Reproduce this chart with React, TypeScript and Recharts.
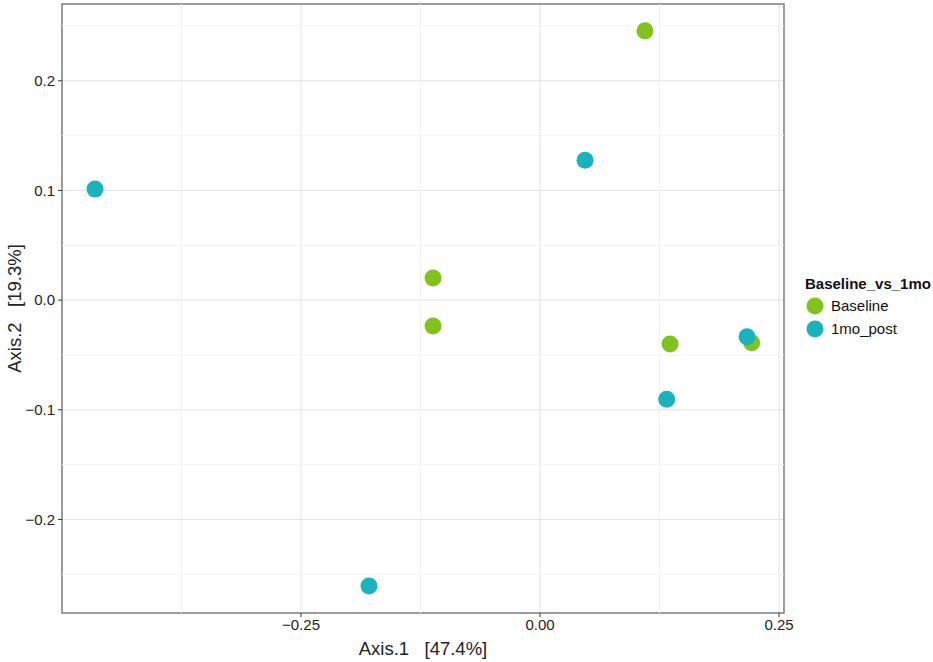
import React from 'react';
import {
  ScatterChart, Scatter, XAxis, YAxis, CartesianGrid, ReferenceLine, ReferenceArea,
} from 'recharts';

const baselineX = [0.1098, -0.1119, -0.1119, 0.136, 0.2214];
const baselineY = [0.2455, 0.0201, -0.0237, -0.0401, -0.0389];
const postX = [-0.4655, 0.0471, 0.2165, 0.1325, -0.1789];
const postY = [0.1012, 0.1276, -0.0335, -0.0905, -0.2607];

const xTicks = [-0.25, 0, 0.25];
const yTicks = [-0.2, -0.1, 0, 0.1, 0.2];
const xMinor = [-0.375, -0.125, 0.125];
const yMinor = [-0.25, -0.15, -0.05, 0.05, 0.15, 0.25];
const xDomain = [-0.5, 0.2552];
const yDomain = [-0.2853, 0.27];

const seriesNames = ['Baseline', '1mo_post'];
const legendTitle = 'Baseline_vs_1mo';
const colors = ['#7fc31c', '#19b2bd'];

const baselineData = baselineX.map((x, i) => ({ x, y: baselineY[i] }));
const postData = postX.map((x, i) => ({ x, y: postY[i] }));

const fmt = (v: number, d: number) => {
  const s = Math.abs(v).toFixed(d);
  return v < 0 ? '\u2212' + s : s;
};

const dot = (color: string) => (props: any) => (
  <circle cx={props.cx} cy={props.cy} r={8.5} fill={color} />
);

const FONT = '"Liberation Sans", Arial, sans-serif';

const LegendBox = () => (
  <div style={{ position: 'absolute', left: 805, top: 273, fontFamily: FONT, color: '#111' }}>
    <div style={{ fontWeight: 'bold', fontSize: 15, height: 21, lineHeight: '21px', whiteSpace: 'nowrap' }}>{legendTitle}</div>
    {seriesNames.map((n, i) => (
      <div key={n} style={{ display: 'flex', alignItems: 'center', height: 23, fontSize: 15 }}>
        <svg width={20} height={20} style={{ marginRight: 6 }}>
          <circle cx={10} cy={10} r={8.5} fill={colors[i]} />
        </svg>
        <span>{n}</span>
      </div>
    ))}
  </div>
);

export default function App() {
  return (
    <div style={{ position: 'absolute', left: 0, top: 0, width: 933, height: 662, background: '#fff' }}>
      <ScatterChart width={933} height={662} margin={{ top: 4, right: 149, bottom: 0, left: 0 }}>
        <CartesianGrid stroke="#e3e3e3" strokeWidth={1} />
        {xMinor.map((v) => (
          <ReferenceLine key={'xm' + v} x={v} stroke="#f3f3f3" strokeWidth={1} />
        ))}
        {yMinor.map((v) => (
          <ReferenceLine key={'ym' + v} y={v} stroke="#f3f3f3" strokeWidth={1} />
        ))}
        <XAxis
          type="number"
          dataKey="x"
          domain={xDomain}
          allowDataOverflow
          ticks={xTicks}
          tickFormatter={(v: number) => fmt(v, 2)}
          axisLine={false}
          tickSize={4}
          tickLine={{ stroke: '#333' }}
          tick={{ fill: '#222', fontSize: 15, fontFamily: FONT }}
          height={49}
          label={{
            content: (p: any) => {
              const vb = p.viewBox;
              return (
                <text x={vb.x + vb.width / 2} y={vb.y + 42} textAnchor="middle" fill="#222"
                  fontSize={18.5} fontFamily={FONT} style={{ whiteSpace: 'pre' }}>
                  {'Axis.1   [47.4%]'}
                </text>
              );
            },
          }}
        />
        <YAxis
          type="number"
          dataKey="y"
          domain={yDomain}
          allowDataOverflow
          ticks={yTicks}
          tickFormatter={(v: number) => fmt(v, 1)}
          axisLine={false}
          tickSize={4}
          tickMargin={3}
          tickLine={{ stroke: '#333' }}
          tick={{ fill: '#222', fontSize: 15, fontFamily: FONT }}
          width={62}
          label={{
            content: (p: any) => {
              const vb = p.viewBox;
              const cx = 14;
              const cy = vb.y + vb.height / 2;
              return (
                <text x={cx} y={cy} textAnchor="middle" dominantBaseline="central" fill="#222"
                  fontSize={18.5} fontFamily={FONT} transform={`rotate(-90 ${cx} ${cy})`}
                  style={{ whiteSpace: 'pre' }}>
                  {'Axis.2   [19.3%]'}
                </text>
              );
            },
          }}
        />
        <ReferenceArea
          x1={xDomain[0]} x2={xDomain[1]} y1={yDomain[0]} y2={yDomain[1]}
          fill="none" stroke="#808080" strokeWidth={1.5} ifOverflow="visible"
        />
        <Scatter name={seriesNames[0]} data={baselineData} fill={colors[0]} shape={dot(colors[0])} isAnimationActive={false} />
        <Scatter name={seriesNames[1]} data={postData} fill={colors[1]} shape={dot(colors[1])} isAnimationActive={false} />
      </ScatterChart>
      <LegendBox />
    </div>
  );
}
